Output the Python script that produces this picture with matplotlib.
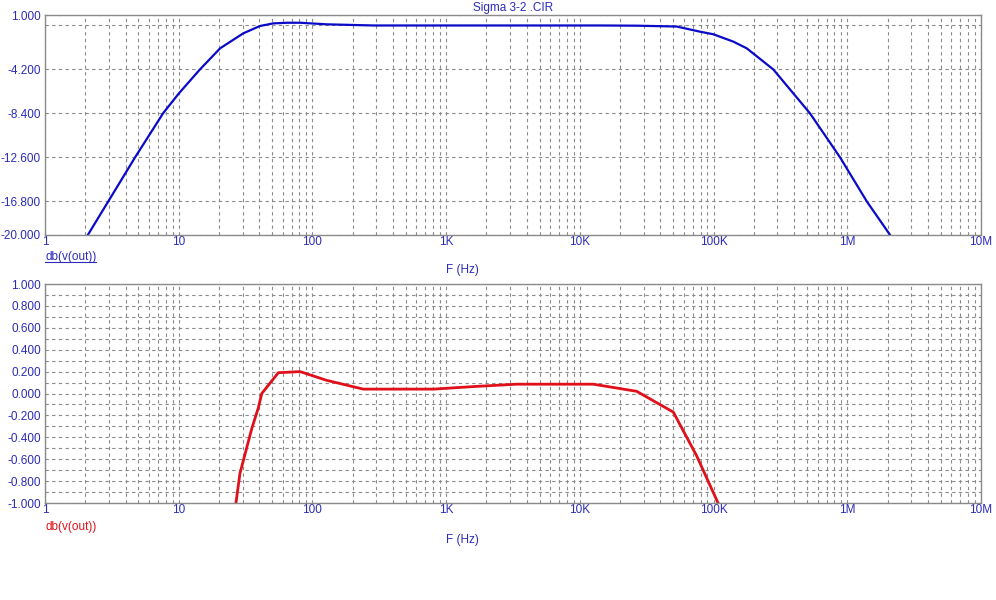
import matplotlib
matplotlib.use("Agg")
import matplotlib.pyplot as plt
from matplotlib.ticker import FixedLocator, NullFormatter
from matplotlib.lines import Line2D
import numpy as np

plt.rcParams['font.family'] = ['Liberation Sans', 'DejaVu Sans']

# ---------------- data ----------------
top_freq = [2.09, 2.97, 4.71, 7.67, 10.0, 14.4, 20.4, 30.4, 40.5, 51, 65, 81, 128, 285,
            1000, 10000, 14200, 26600, 53000, 79000, 99700, 141000, 177000, 280000,
            527000, 884000, 1400000, 2090000]
top_db = [-20.0, -16.8, -12.6, -8.35, -6.5, -4.2, -2.18, -0.75, -0.05, 0.2, 0.26, 0.26, 0.11, 0.0,
          0.0, 0.0, 0.0, -0.02, -0.1, -0.59, -0.84, -1.55, -2.18, -4.2,
          -8.4, -12.6, -16.8, -20.0]

bot_freq = [26.8, 28.7, 35.2, 39.4, 41.8, 55.6, 80.8, 128, 240, 803, 1690, 3370,
            12600, 26600, 50000, 74800, 108000]
bot_db = [-1.0, -0.73, -0.32, -0.13, 0.0, 0.19, 0.20, 0.12, 0.04, 0.04, 0.065, 0.085,
          0.085, 0.02, -0.17, -0.57, -1.0]

x_ticks = [1, 10, 100, 1e3, 1e4, 1e5, 1e6, 1e7]
x_labels = ['1', '10', '100', '1K', '10K', '100K', '1M', '10M']
top_yticks = [1.0, -4.2, -8.4, -12.6, -16.8, -20.0]
top_ygrid = [0.0, -4.2, -8.4, -12.6, -16.8]
bot_yticks = [1.0, 0.8, 0.6, 0.4, 0.2, 0.0, -0.2, -0.4, -0.6, -0.8, -1.0]
bot_ygrid = [0.9, 0.7, 0.5, 0.3, 0.1, -0.1, -0.3, -0.5, -0.7, -0.9]

title = 'Sigma 3-2 .CIR'
trace_label = 'db(v(out))'
x_label = 'F (Hz)'

# ---------------- style ----------------
TXT = '#2b2bb8'
BLUE = '#0a0ac8'
RED = '#e0101a'
FRAME = '#8a8a8a'
GRID = '#8a8a8a'

fig = plt.figure(figsize=(9.96, 6.0), dpi=100)
fig.patch.set_facecolor('white')

W, H = 996.0, 600.0
def axrect(l, t, r, b):
    return [l / W, 1 - b / H, (r - l) / W, (b - t) / H]

ax1 = fig.add_axes(axrect(45, 15, 981, 235))
ax2 = fig.add_axes(axrect(45, 284, 981, 503))

minor_x = [m * 10 ** d for d in range(0, 7) for m in range(2, 10)]

def style(ax, yticks, ygrid, ylim):
    ax.set_xscale('log')
    ax.set_xlim(1, 1e7)
    ax.set_ylim(*ylim)
    ax.xaxis.set_major_locator(FixedLocator(x_ticks))
    ax.xaxis.set_minor_locator(FixedLocator(minor_x))
    ax.xaxis.set_minor_formatter(NullFormatter())
    ax.set_xticklabels(x_labels)
    ax.yaxis.set_major_locator(FixedLocator(yticks))
    ax.yaxis.set_minor_locator(FixedLocator(ygrid))
    ax.set_yticklabels(['%.3f' % v for v in yticks])
    ax.tick_params(which='both', length=0, colors=TXT, labelsize=8.5)
    ax.tick_params(axis='x', pad=1)
    ax.tick_params(axis='y', pad=3)
    ax.grid(True, which='both', color=GRID, linestyle=(0, (3, 3)), linewidth=0.8)
    for s in ax.spines.values():
        s.set_color(FRAME)
        s.set_linewidth(1.0)
    ax.set_axisbelow(True)

style(ax1, top_yticks, top_ygrid, (-20, 1))
style(ax2, bot_yticks, bot_ygrid, (-1, 1))

ax1.plot(top_freq, top_db, color=BLUE, linewidth=1.6, solid_joinstyle='round')
ax2.plot(bot_freq, bot_db, color=RED, linewidth=2.0, solid_joinstyle='round')

# texts
fig.text(513 / W, 1 - 8 / H, title, color=TXT, fontsize=8.5, ha='center', va='center')
t1 = fig.text(45 / W, 1 - 257 / H, trace_label, color=TXT, fontsize=8.5, ha='left', va='center')
fig.text(462 / W, 1 - 270 / H, x_label, color=TXT, fontsize=8.5, ha='center', va='center')
fig.text(45 / W, 1 - 527 / H, trace_label, color=RED, fontsize=8.5, ha='left', va='center')
fig.text(462 / W, 1 - 540 / H, x_label, color=TXT, fontsize=8.5, ha='center', va='center')

# underline the top trace label
fig.canvas.draw()
bb = t1.get_window_extent().transformed(fig.transFigure.inverted())
fig.add_artist(Line2D([bb.x0, bb.x1], [bb.y0 + 0.002, bb.y0 + 0.002],
                      transform=fig.transFigure, color=TXT, linewidth=0.8))

fig.savefig('out.png', dpi=100, facecolor='white')
